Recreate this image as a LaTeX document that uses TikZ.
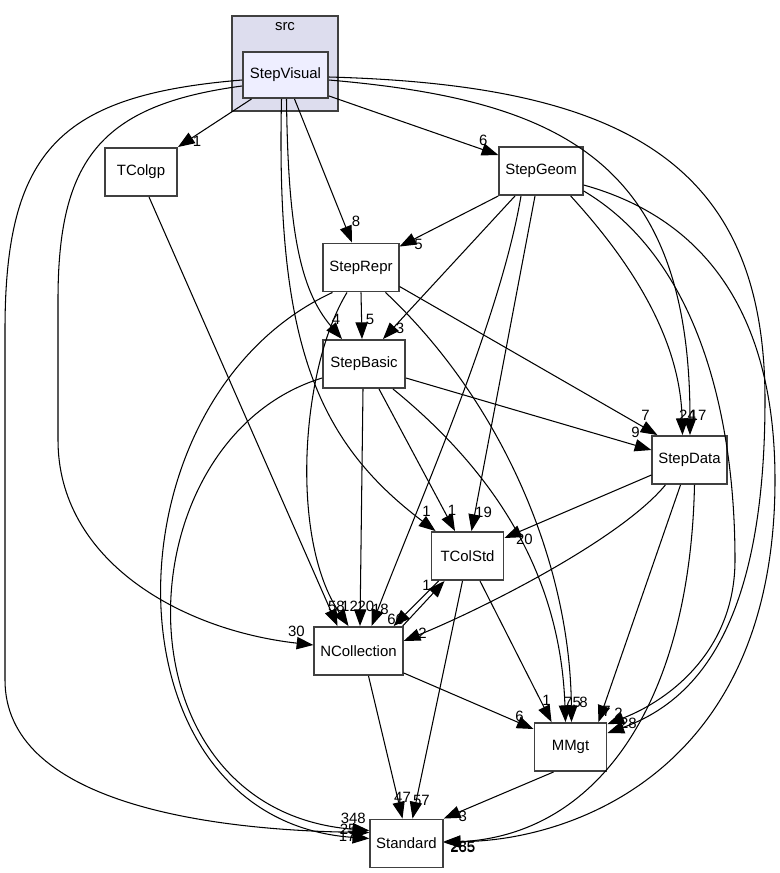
\documentclass[tikz,border=0pt]{standalone}
\usepackage{fontspec}
\setmainfont{Liberation Sans}
\usetikzlibrary{arrows.meta,calc}
\definecolor{clusterbg}{RGB}{221,221,238}
\definecolor{srcbg}{RGB}{238,238,255}
\definecolor{boxdraw}{RGB}{64,64,64}

\begin{document}
\begin{tikzpicture}[x=0.02cm,y=-0.02cm,
    cluster/.style={draw=boxdraw,fill=clusterbg,line width=1.1pt,minimum width=2.12cm,minimum height=1.9cm,inner sep=0pt},
    box/.style={draw=boxdraw,fill=white,line width=1.1pt,minimum width=1.44cm,minimum height=0.96cm,inner xsep=0.12cm,font=\fontsize{8.5}{10}\selectfont},
    dep/.style={-{Triangle[length=9.5pt,width=7pt]},line width=0.6pt},
    num/.style={pos=1,inner sep=0pt,font=\fontsize{8.5}{10}\selectfont}]
    \useasboundingbox (0,0) rectangle (779,873);
    % directory cluster
    \node[cluster] (src) at (285,63.5) {};
    \node[font=\fontsize{8.5}{10}\selectfont] (srclbl) at (285,27) {src};
    \node[box,fill=srcbg,minimum width=1.7cm,minimum height=0.92cm] (sv) at (285.5,75) {StepVisual};
    % packages
    \node[box] (tcg) at (141,172) {TColgp};
    \node[box] (sg) at (541,171) {StepGeom};
    \node[box] (sr) at (361,267.5) {StepRepr};
    \node[box,minimum width=1.64cm] (sb) at (364,364) {StepBasic};
    \node[box] (sd) at (689.5,460) {StepData};
    \node[box] (tcs) at (467.5,556) {TColStd};
    \node[box] (nc) at (358.5,651) {NCollection};
    \node[box] (mm) at (570.5,747) {MMgt};
    \node[box] (st) at (406.5,843.5) {Standard};
    % StepVisual
    \draw[dep] ($(sv.south)+(-34,0)$) -- (tcg.north east) node[num,shift={(19,-6)}] {1};
    \draw[dep] ($(sv.south east)+(0,-3)$) -- ($(sg.west)+(0,-16)$) node[num,shift={(-15,-15)}] {6};
    \draw[dep] ($(sv.south)+(9,0)$) -- ($(sr.north)+(-9,0)$) node[num,shift={(4,-21)}] {8};
    \draw[dep] ($(sv.south)+(1,0)$) .. controls (288,230) and (300,290) .. ($(sb.north)+(-22,0)$) node[num,shift={(-6,-20)}] {4};
    \draw[dep] ($(sv.south)+(-4,0)$) .. controls (276,340) and (315,440) .. ($(tcs.north west)+(5,0)$) node[num,shift={(-9,-20)}] {1};
    \draw[dep] ($(sv.west)+(0,11)$) .. controls (100,105) and (58,160) .. (58,300) -- (58,440) .. controls (58,560) and (180,630) .. ($(nc.west)+(0,-6)$) node[num,shift={(-17,-14)}] {30};
    \draw[dep] ($(sv.west)+(0,5)$) .. controls (60,95) and (5,150) .. (5,330) -- (5,680) .. controls (5,800) and (200,830) .. ($(st.west)+(0,-11)$) node[num,shift={(-21,-3)}] {25};
    \draw[dep] ($(sv.east)+(0,5)$) .. controls (560,100) and (690,160) .. ($(sd.north)+(0.5,0)$) node[num,shift={(8,-20)}] {17};
    \draw[dep] ($(sv.east)+(0,2)$) .. controls (620,85) and (765,160) .. (765,400) .. controls (765,620) and (700,700) .. ($(mm.east)+(0,-14)$) node[num,shift={(21,-10)}] {28};
    % StepGeom
    \draw[dep] (sg.south west) -- ($(sr.north east)+(0,4)$) node[num,shift={(19,-2)}] {5};
    \draw[dep] ($(sg.south)+(-26,0)$) -- ($(sb.north)+(19,0)$) node[num,shift={(17,-11)}] {3};
    \draw[dep] ($(sg.south)+(-20,0)$) .. controls (500,320) and (420,500) .. ($(nc.north)+(13,0)$) node[num,shift={(9,-17)}] {18};
    \draw[dep] ($(sg.south)+(-6,0)$) -- ($(tcs.north)+(4,0)$) node[num,shift={(12,-19)}] {19};
    \draw[dep] ($(sg.south east)+(-13,0)$) .. controls (620,250) and (680,330) .. ($(sd.north)+(-7,0)$) node[num,shift={(5,-20)}] {24};
    \draw[dep] ($(sg.south east)+(0,-5)$) .. controls (700,260) and (735,420) .. (735,560) .. controls (735,650) and (670,700) .. ($(mm.north east)+(0,2)$) node[num,shift={(11,-11)}] {2};
    \draw[dep] ($(sg.east)+(0,14)$) .. controls (710,220) and (775,320) .. (775,480) .. controls (775,780) and (560,842) .. ($(st.east)+(0,-2)$) node[num,shift={(19,6)}] {265};
    % StepRepr
    \draw[dep] (sr.south) -- ($(sb.north)+(-2,0)$) node[num,shift={(8,-20)}] {5};
    \draw[dep] ($(sr.south east)+(0,-6)$) -- ($(sd.north west)+(6,0)$) node[num,shift={(-12,-20)}] {7};
    \draw[dep] ($(sr.south)+(-14,0)$) .. controls (300,370) and (290,540) .. ($(nc.north)+(-10,0)$) node[num,shift={(1,-20)}] {12};
    \draw[dep] ($(sr.south east)+(-14,0)$) .. controls (500,400) and (570,560) .. ($(mm.north)+(1,0)$) node[num,shift={(12,-20)}] {8};
    \draw[dep] ($(sr.south west)+(10,0)$) .. controls (100,400) and (100,820) .. ($(st.west)+(0,-5)$) node[num,shift={(-22,-2)}] {17};
    % StepBasic
    \draw[dep] ($(sb.east)+(0,14)$) -- ($(sd.west)+(0,-10)$) node[num,shift={(-16,-18)}] {9};
    \draw[dep] ($(sb.south)+(15,0)$) -- ($(tcs.north)+(-12.5,0)$) node[num,shift={(-3,-21)}] {1};
    \draw[dep] ($(sb.south)+(-1,0)$) -- ($(nc.north)+(1.5,0)$) node[num,shift={(6,-20)}] {20};
    \draw[dep] ($(sb.south east)+(-13,0)$) .. controls (480,460) and (560,560) .. ($(mm.north)+(-5,0)$) node[num,shift={(7,-20)}] {75};
    \draw[dep] ($(sb.west)+(0,14)$) .. controls (120,440) and (110,810) .. ($(st.west)+(0,-13)$) node[num,shift={(-16,-12)}] {348};
    % StepData
    \draw[dep] ($(sd.west)+(0,15)$) -- ($(tcs.east)+(0,-18)$) node[num,shift={(20,1)}] {20};
    \draw[dep] ($(sd.south west)+(14,0)$) .. controls (620,540) and (480,610) .. ($(nc.east)+(0,-10)$) node[num,shift={(19,-8)}] {2};
    \draw[dep] ($(sd.south)+(-9,0)$) -- ($(mm.north east)+(-9,0)$) node[num,shift={(8,-11)}] {7};
    \draw[dep] ($(sd.south)+(5,0)$) .. controls (690,700) and (600,835) .. ($(st.east)+(0,-1)$) node[num,shift={(19,4)}] {285};
    % TColStd, TColgp, NCollection, MMgt
    \draw[dep] ($(tcs.south west)+(8,0)$) -- ($(nc.north east)+(-10,0)$) node[num,shift={(2,-7)}] {66};
    \draw[dep] ($(nc.north east)+(-1,0)$) -- ($(tcs.south west)+(14,0)$) node[num,shift={(-18,4)}] {1};
    \draw[dep] ($(tcs.south)+(12.5,0)$) -- ($(mm.north west)+(18,0)$) node[num,shift={(-5,-22)}] {1};
    \draw[dep] ($(tcs.south)+(-5,0)$) -- ($(st.north)+(6,0)$) node[num,shift={(9,-18)}] {57};
    \draw[dep] ($(tcg.south)+(8,0)$) -- ($(nc.north)+(-21,0)$) node[num,shift={(-1,-20)}] {58};
    \draw[dep] ($(nc.south east)+(0,-3)$) -- ($(mm.west)+(0,-18)$) node[num,shift={(-14,-13)}] {6};
    \draw[dep] ($(nc.south)+(10,0)$) -- ($(st.north)+(-4,0)$) node[num,shift={(0,-21)}] {47};
    \draw[dep] ($(mm.south west)+(20,0)$) -- (st.north east) node[num,shift={(19,-2)}] {3};
\end{tikzpicture}
\end{document}
